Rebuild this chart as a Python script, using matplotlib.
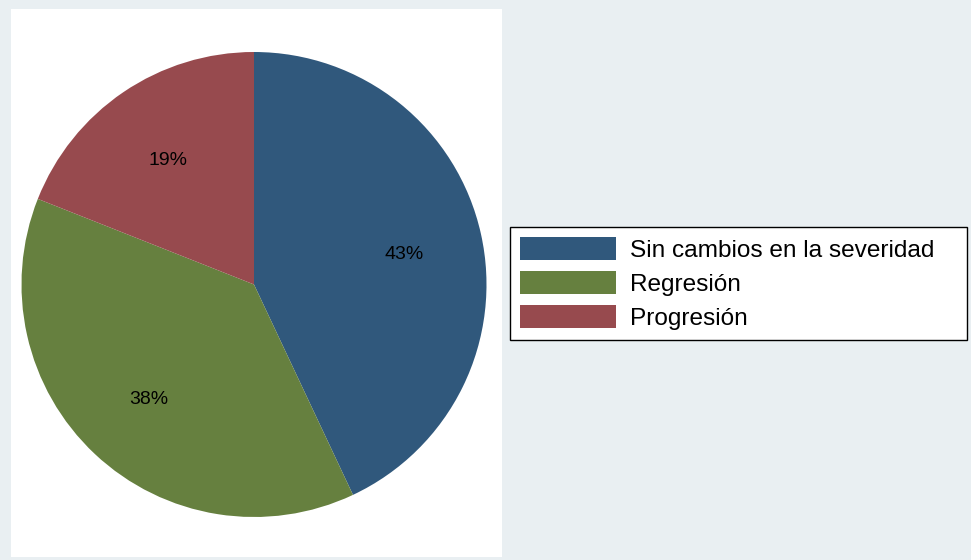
import matplotlib
matplotlib.use("Agg")
import matplotlib.pyplot as plt
from matplotlib.patches import Rectangle, Patch

categories = ["Sin cambios en la severidad", "Regresión", "Progresión"]
shares = [43, 38, 19]
colors = ["#30587c", "#66803f", "#974a4e"]

plt.rcParams["font.family"] = ["Liberation Sans", "DejaVu Sans"]

W, H = 971, 560
fig = plt.figure(figsize=(W / 100, H / 100), dpi=100)
fig.patch.set_facecolor("#e9eff2")

# white plot region behind the pie
fig.patches.append(Rectangle((11 / W, 1 - 557 / H), (502 - 11) / W, (557 - 9) / H,
                             transform=fig.transFigure, facecolor="white",
                             edgecolor="none", zorder=-5))

cx, cy, r = 254, 284.5, 232.5
ax = fig.add_axes([(cx - r) / W, 1 - (cy + r) / H, 2 * r / W, 2 * r / H])
ax.set_zorder(2)

wedges, _, autotexts = ax.pie(shares, colors=colors, startangle=90, counterclock=False,
                              radius=1, autopct="%1.0f%%", pctdistance=0.66,
                              wedgeprops=dict(linewidth=0))
for t in autotexts:
    t.set_fontsize(14)
    t.set_color("black")
    x, y = t.get_position()
    t.set_position((x, y - 0.013))
ax.set_xlim(-1, 1)
ax.set_ylim(-1, 1)
ax.axis("off")

handles = [Patch(facecolor=c, edgecolor="none") for c in colors]
fs = 17.6
leg = fig.legend(handles, categories, loc="upper left",
                 bbox_to_anchor=(510 / W, 1 - 343 / H, (967 - 510) / W, (343 - 227) / H),
                 mode="expand", fontsize=fs, frameon=True, fancybox=False,
                 handlelength=3.9, handleheight=1.08, handletextpad=0.58,
                 labelspacing=0.36, borderpad=0.42, borderaxespad=0)
frame = leg.get_frame()
frame.set_edgecolor("black")
frame.set_linewidth(1.0)
frame.set_facecolor("white")
frame.set_alpha(1)

fig.savefig("out.png", dpi=100, facecolor=fig.get_facecolor())
